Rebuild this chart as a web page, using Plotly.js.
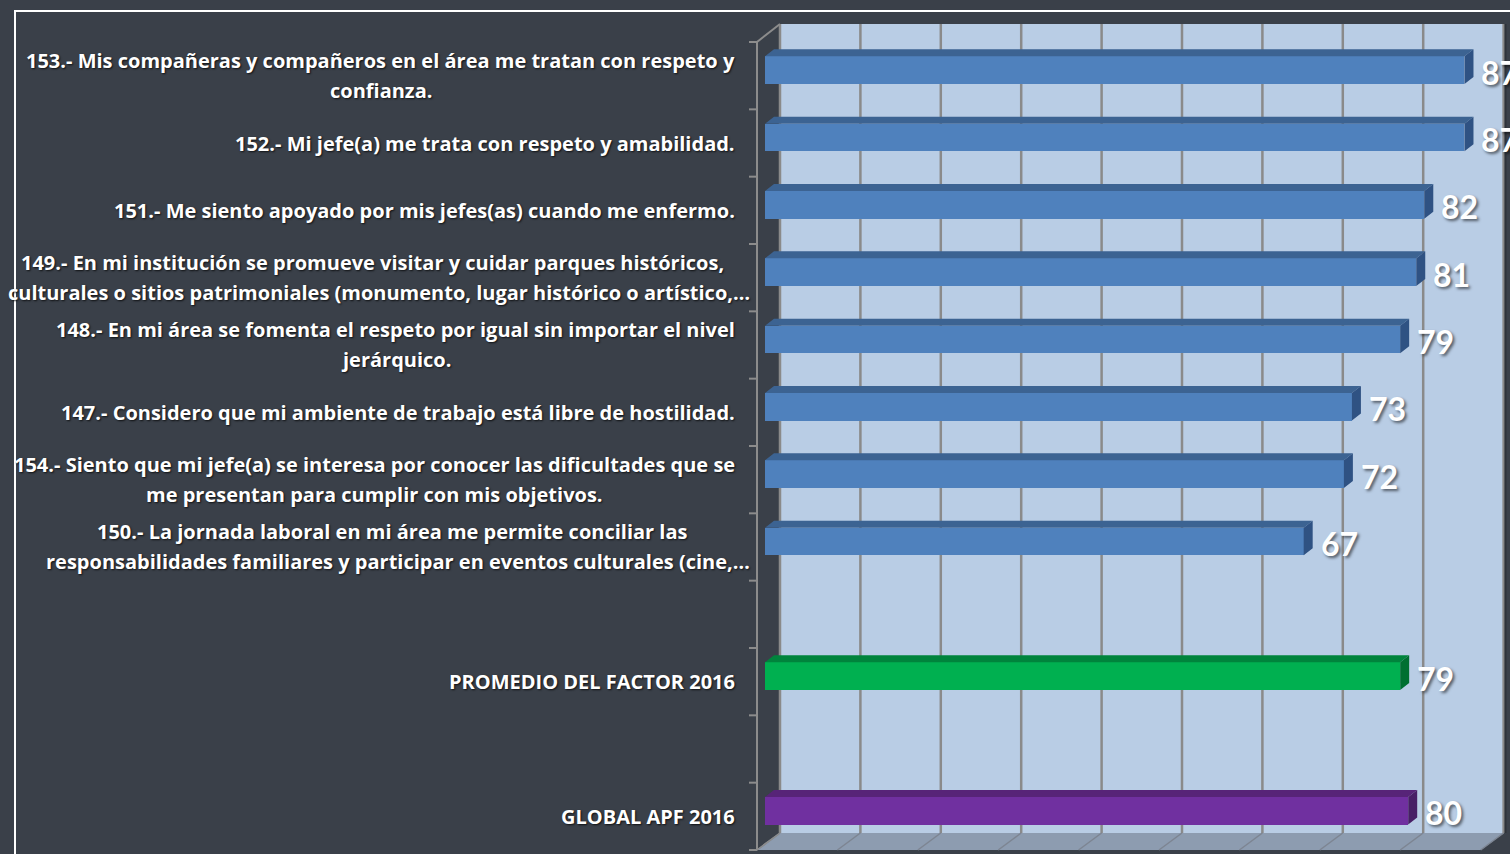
<!DOCTYPE html>
<html>
<head>
<meta charset="utf-8">
<script src="https://cdn.plot.ly/plotly-3.0.1.min.js"></script>
<style>
  html, body { margin: 0; padding: 0; background: #3a4049; }
  #chart { width: 1510px; height: 854px; }
</style>
</head>
<body>
<div id="chart"></div>
<script>
// ---------------- DATA ----------------
const questionLabels = [
  "153.- Mis compañeras y compañeros en el área me tratan con respeto y\nconfianza.",
  "152.- Mi jefe(a) me trata con respeto y amabilidad.",
  "151.- Me siento apoyado por mis jefes(as) cuando me enfermo.",
  "149.- En mi institución se promueve visitar y cuidar parques históricos,\nculturales o sitios patrimoniales (monumento, lugar histórico o artístico,…",
  "148.- En mi área se fomenta el respeto por igual sin importar el nivel\njerárquico.",
  "147.- Considero que mi ambiente de trabajo está libre de hostilidad.",
  "154.- Siento que mi jefe(a) se interesa por conocer las dificultades que se\nme presentan para cumplir con mis objetivos.",
  "150.- La jornada laboral en mi área me permite conciliar las\nresponsabilidades familiares y participar en eventos culturales (cine,…"
];
const questionValues = [87, 87, 82, 81, 79, 73, 72, 67];
const factorLabel = "PROMEDIO DEL FACTOR 2016";
const factorValue = 79;
const globalLabel = "GLOBAL APF 2016";
const globalValue = 80;
const axisTicks = [0, 10, 20, 30, 40, 50, 60, 70, 80, 90];

// ---------------- LAYOUT CONSTANTS ----------------
const W = 1510, H = 854;
const X0 = 765, SX = 8.04;          // pixel of value 0 on bar plane, px per unit
const Y0 = 36.5, CAT = 67.33;       // top of category band on bar plane, px per category
const BAR_W = 0.41;
const DX = 9 / SX, DY = -7 / CAT;   // bar depth
const BACK_DX = 15 / SX;            // back wall offset
const FRONT_DX = -8 / SX;           // front plane offset
const WALL = {left: 780, right: 1504, top: 24, bottom: 833};
const FRONT = {left: 757, top: 42, bottom: 850};
const BG = '#3a4049';

const COLORS = {
  blue:   {front: '#4f81bd', top: '#3c6392', side: '#2f5283'},
  green:  {front: '#00b050', top: '#00843c', side: '#006f31'},
  purple: {front: '#7030a0', top: '#572478', side: '#481f66'}
};

// categories (with gaps)
const labels = [...questionLabels, "", factorLabel, "", globalLabel];
const values = [...questionValues, null, factorValue, null, globalValue];
const groups = [...questionValues.map(() => 'blue'), null, 'green', null, 'purple'];
const nCat = labels.length;
const idx = labels.map((_, i) => i);

const px = x => x / W;
const py = y => 1 - y / H;

// ---------------- TRACES ----------------
const barIdx = idx.filter(i => values[i] !== null);
const traces = [{
  type: 'bar', orientation: 'h',
  x: barIdx.map(i => values[i]),
  y: barIdx,
  width: BAR_W,
  marker: {color: barIdx.map(i => COLORS[groups[i]].front), line: {width: 0}},
  hoverinfo: 'skip'
}];

Object.keys(COLORS).forEach(g => {
  const tx = [], ty = [], sx = [], sy = [];
  barIdx.filter(i => groups[i] === g).forEach(i => {
    const v = values[i], h = BAR_W / 2;
    tx.push(0, v, v + DX, DX, 0, null);
    ty.push(i - h, i - h, i - h + DY, i - h + DY, i - h, null);
    sx.push(v, v, v + DX, v + DX, v, null);
    sy.push(i - h, i + h, i + h + DY, i - h + DY, i - h, null);
  });
  traces.push({type: 'scatter', mode: 'lines', x: tx, y: ty, fill: 'toself',
    fillcolor: COLORS[g].top, line: {width: 0, color: COLORS[g].top}, hoverinfo: 'skip'});
  traces.push({type: 'scatter', mode: 'lines', x: sx, y: sy, fill: 'toself',
    fillcolor: COLORS[g].side, line: {width: 0, color: COLORS[g].side}, hoverinfo: 'skip'});
});

// ---------------- SHAPES ----------------
const shapes = [];
shapes.push({type: 'rect', xref: 'paper', yref: 'paper', layer: 'below',
  x0: px(WALL.left), x1: px(WALL.right), y0: py(WALL.bottom), y1: py(WALL.top),
  fillcolor: '#b9cde5', line: {width: 0}});
shapes.push({type: 'path', xref: 'paper', yref: 'paper', layer: 'below',
  path: `M ${px(FRONT.left)},${py(FRONT.bottom)} L ${px(WALL.left)},${py(WALL.bottom)} L ${px(WALL.right)},${py(WALL.bottom)} L ${px(WALL.right - 23)},${py(FRONT.bottom)} Z`,
  fillcolor: '#8d9cb0', line: {width: 0}});
axisTicks.forEach(t => {
  shapes.push({type: 'line', xref: 'x', yref: 'paper', layer: 'below',
    x0: t + BACK_DX, x1: t + BACK_DX, y0: py(WALL.bottom), y1: py(WALL.top),
    line: {color: '#8a8a8a', width: 2.5}});
  shapes.push({type: 'line', xref: 'x', yref: 'paper', layer: 'below',
    x0: t + BACK_DX, x1: t + FRONT_DX, y0: py(WALL.bottom), y1: py(FRONT.bottom),
    line: {color: '#7d8592', width: 1.5}});
});
shapes.push({type: 'line', xref: 'paper', yref: 'paper', layer: 'below',
  x0: px(WALL.right + 1.5), x1: px(WALL.right + 1.5), y0: py(WALL.bottom), y1: py(WALL.top),
  line: {color: '#2e333a', width: 2}});
const gray = '#8c8c8c';
shapes.push({type: 'line', xref: 'paper', yref: 'paper', layer: 'below',
  x0: px(FRONT.left), x1: px(FRONT.left), y0: py(FRONT.top), y1: py(FRONT.bottom), line: {color: gray, width: 2}});
shapes.push({type: 'line', xref: 'paper', yref: 'paper', layer: 'below',
  x0: px(FRONT.left), x1: px(WALL.left), y0: py(FRONT.top), y1: py(WALL.top), line: {color: gray, width: 2}});
shapes.push({type: 'line', xref: 'paper', yref: 'paper', layer: 'below',
  x0: px(FRONT.left), x1: px(WALL.left), y0: py(FRONT.bottom), y1: py(WALL.bottom), line: {color: gray, width: 1.5}});
for (let k = 0; k <= nCat; k++) {
  const yy = FRONT.top + (FRONT.bottom - FRONT.top) * k / nCat;
  shapes.push({type: 'line', xref: 'paper', yref: 'paper', layer: 'below',
    x0: px(FRONT.left - 8), x1: px(FRONT.left), y0: py(yy), y1: py(yy), line: {color: gray, width: 2}});
}
shapes.push({type: 'rect', xref: 'paper', yref: 'paper', layer: 'above',
  x0: px(15), x1: px(1540), y0: py(880), y1: py(11), line: {color: '#ffffff', width: 2}});

// ---------------- ANNOTATIONS ----------------
const annotations = [];
const LABEL_SIZE = 20;
const LABEL_FAMILY = '"Open Sans", sans-serif';
const LABEL_FONT = {family: LABEL_FAMILY, size: LABEL_SIZE, color: '#ffffff', weight: 700,
  shadow: '1px 1px 2px rgba(0,0,0,0.75)'};
const canvas = document.createElement('canvas');
const ctx = canvas.getContext('2d');
ctx.font = `bold ${LABEL_SIZE}px "Open Sans"`;
const LINE_GAP = 30;

labels.forEach((lab, i) => {
  if (!lab) return;
  const lines = lab.split('\n');
  const widths = lines.map(l => ctx.measureText(l).width);
  const hasEll = lab.indexOf('…') >= 0;
  let center;
  if (hasEll) {
    const ei = lines.findIndex(l => l.indexOf('…') >= 0);
    center = 752 - widths[ei] / 2 - 8;
  } else {
    center = 735 - Math.max(...widths) / 2;
  }
  lines.forEach((l, j) => {
    const off = (j - (lines.length - 1) / 2) * LINE_GAP;
    const isEll = l.indexOf('…') >= 0;
    annotations.push({
      xref: 'paper', yref: 'y',
      x: isEll ? px(752) : px(center), xanchor: isEll ? 'right' : 'center',
      y: i, yshift: -5.5 - off, yanchor: 'middle',
      text: l, showarrow: false, font: LABEL_FONT
    });
  });
});

barIdx.forEach(i => {
  annotations.push({
    xref: 'x', yref: 'y', x: values[i], y: i, xanchor: 'left', yanchor: 'middle',
    xshift: 15, yshift: -2, text: String(values[i]), showarrow: false,
    font: {family: 'Lato, "Open Sans", sans-serif', size: 32, color: '#ffffff', weight: 700,
      shadow: '2px 2px 3px rgba(0,0,0,0.55)'}
  });
});

const layout = {
  width: W, height: H, autosize: false,
  margin: {l: 0, r: 0, t: 0, b: 0, pad: 0},
  paper_bgcolor: BG, plot_bgcolor: 'rgba(0,0,0,0)',
  showlegend: false,
  xaxis: {range: [-X0 / SX, (W - X0) / SX], visible: false, fixedrange: true},
  yaxis: {range: [(H - Y0) / CAT - 0.5, -Y0 / CAT - 0.5], visible: false, fixedrange: true},
  shapes: shapes, annotations: annotations, bargap: 0
};

Plotly.newPlot('chart', traces, layout, {displayModeBar: false, staticPlot: true});
</script>
</body>
</html>
